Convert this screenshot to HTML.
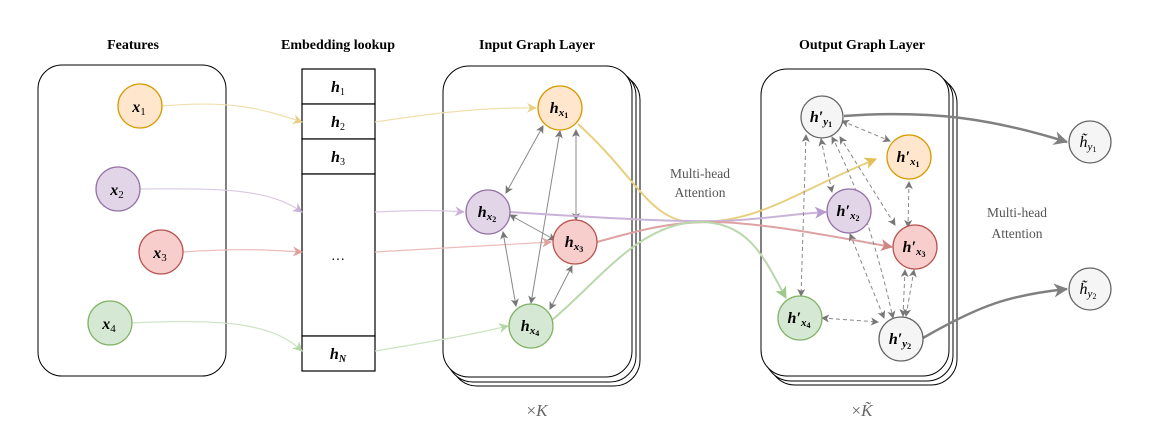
<!DOCTYPE html>
<html><head><meta charset="utf-8"><style>
body{margin:0;background:#fff}
svg{display:block}
text{font-family:"Liberation Serif",serif}
.t{font-weight:bold;font-size:14px;text-anchor:middle}
.m{font-style:italic;font-size:16px;text-anchor:middle;font-weight:bold}
.s{font-size:10px}
</style></head><body>
<svg width="1150" height="444" viewBox="0 0 1150 444" xmlns="http://www.w3.org/2000/svg">
<defs>
<marker id="ao" markerWidth="10" markerHeight="10" refX="9" refY="5" orient="auto" markerUnits="userSpaceOnUse"><path d="M0,0L10,5L0,10L3,5z" fill="#e8d08a"/></marker>
<marker id="ap" markerWidth="10" markerHeight="10" refX="9" refY="5" orient="auto" markerUnits="userSpaceOnUse"><path d="M0,0L10,5L0,10L3,5z" fill="#c8b3d6"/></marker>
<marker id="ar" markerWidth="10" markerHeight="10" refX="9" refY="5" orient="auto" markerUnits="userSpaceOnUse"><path d="M0,0L10,5L0,10L3,5z" fill="#e0a09e"/></marker>
<marker id="ag" markerWidth="10" markerHeight="10" refX="9" refY="5" orient="auto" markerUnits="userSpaceOnUse"><path d="M0,0L10,5L0,10L3,5z" fill="#b7d6a8"/></marker>
<marker id="aO" markerWidth="12" markerHeight="12" refX="11" refY="6" orient="auto" markerUnits="userSpaceOnUse"><path d="M0,0L12,6L0,12L3,6z" fill="#e3bf55"/></marker>
<marker id="aP" markerWidth="12" markerHeight="12" refX="11" refY="6" orient="auto" markerUnits="userSpaceOnUse"><path d="M0,0L12,6L0,12L3,6z" fill="#b89ccb"/></marker>
<marker id="aR" markerWidth="12" markerHeight="12" refX="11" refY="6" orient="auto" markerUnits="userSpaceOnUse"><path d="M0,0L12,6L0,12L3,6z" fill="#cf8583"/></marker>
<marker id="aG" markerWidth="12" markerHeight="12" refX="11" refY="6" orient="auto" markerUnits="userSpaceOnUse"><path d="M0,0L12,6L0,12L3,6z" fill="#9fc98c"/></marker>
<marker id="ak" markerWidth="14" markerHeight="14" refX="13" refY="7" orient="auto" markerUnits="userSpaceOnUse"><path d="M0,0L14,7L0,14L4,7z" fill="#808080"/></marker>
<marker id="g1" markerWidth="8" markerHeight="8" refX="7" refY="4" orient="auto" markerUnits="userSpaceOnUse"><path d="M0,0L8,4L0,8L2,4z" fill="#777"/></marker>
<marker id="g0" markerWidth="8" markerHeight="8" refX="1" refY="4" orient="auto" markerUnits="userSpaceOnUse"><path d="M8,0L0,4L8,8L6,4z" fill="#777"/></marker>
</defs>

<text class="t" x="133" y="49">Features</text>
<text class="t" x="338" y="49">Embedding lookup</text>
<text class="t" x="537" y="49">Input Graph Layer</text>
<text class="t" x="862" y="49">Output Graph Layer</text>

<rect x="38" y="65" width="188" height="311" rx="24" fill="#fff" stroke="#000" stroke-width="1"/>

<g fill="#fff" stroke="#000" stroke-width="1.2">
<rect x="302" y="69" width="73" height="35"/><rect x="302" y="104" width="73" height="35"/><rect x="302" y="139" width="73" height="35"/><rect x="302" y="174" width="73" height="162"/><rect x="302" y="336" width="73" height="35"/>
</g>
<text class="m" x="338" y="92">h<tspan class="s" font-style="normal" font-weight="normal" dy="3">1</tspan></text>
<text class="m" x="338" y="127">h<tspan class="s" font-style="normal" font-weight="normal" dy="3">2</tspan></text>
<text class="m" x="338" y="162">h<tspan class="s" font-style="normal" font-weight="normal" dy="3">3</tspan></text>
<text x="338" y="260" text-anchor="middle" font-size="14">…</text>
<text class="m" x="338" y="359">h<tspan class="s" dy="3">N</tspan></text>

<g fill="#fff" stroke="#000" stroke-width="1">
<rect x="451" y="74" width="189" height="312" rx="26"/>
<rect x="447" y="70" width="189" height="312" rx="26"/>
<rect x="443" y="66" width="189" height="311" rx="26"/>
</g>
<g fill="#fff" stroke="#000" stroke-width="1">
<rect x="769" y="77" width="188" height="308" rx="26"/>
<rect x="765" y="73" width="188" height="308" rx="26"/>
<rect x="761" y="69" width="188" height="307" rx="26"/>
</g>

<g fill="none" stroke-width="1.2">
<path d="M162,106 C230,100 260,108 302,122" stroke="#f0dfae" marker-end="url(#ao)"/>
<path d="M140,189 C230,188 270,190 302,212" stroke="#d9c9e3" marker-end="url(#ap)"/>
<path d="M183,252 C240,248 270,250 302,252" stroke="#ecbcbb" marker-end="url(#ar)"/>
<path d="M132,323 C230,318 275,325 302,351" stroke="#cde3c2" marker-end="url(#ag)"/>
<path d="M375,122 C440,112 490,107 536,108" stroke="#f0dfae" marker-end="url(#ao)"/>
<path d="M375,212 C420,210 440,210 464,212" stroke="#d9c9e3" marker-end="url(#ap)"/>
<path d="M375,252 C450,248 500,245 551,242" stroke="#ecbcbb" marker-end="url(#ar)"/>
<path d="M375,351 C430,342 470,335 508,326" stroke="#cde3c2" marker-end="url(#ag)"/>
</g>

<g stroke="#888" stroke-width="1" fill="none" marker-start="url(#g0)" marker-end="url(#g1)">
<path d="M543,126 L506,193"/>
<path d="M560,131 L531,303"/>
<path d="M576,130 L576,220"/>
<path d="M510,215 L555,240"/>
<path d="M503,232 L516,306"/>
<path d="M572,266 L550,309"/>
</g>

<g fill="none" stroke-width="2">
<path d="M578,124 C640,180 650,225 700,222 C760,222 800,190 876,159" stroke="#e8cf7e" marker-end="url(#aO)"/>
<path d="M510,212 C600,218 680,222 720,221 C760,220 790,214 826,212" stroke="#c9b3d8" marker-end="url(#aP)"/>
<path d="M597,242 C640,230 670,222 710,222 C760,222 830,236 892,247" stroke="#dda3a2" marker-end="url(#aR)"/>
<path d="M552,320 C600,280 640,222 700,222 C750,222 765,260 786,298" stroke="#b9d8ab" marker-end="url(#aG)"/>
</g>

<text x="700" y="178" text-anchor="middle" font-size="13.5" fill="#555">Multi-head</text>
<text x="700" y="197" text-anchor="middle" font-size="13.5" fill="#555">Attention</text>
<text x="1017" y="217" text-anchor="middle" font-size="13.5" fill="#555">Multi-head</text>
<text x="1017" y="238" text-anchor="middle" font-size="13.5" fill="#555">Attention</text>

<g stroke="#888" stroke-width="1" fill="none" stroke-dasharray="4,3" marker-start="url(#g0)" marker-end="url(#g1)">
<path d="M842,121 L890,141"/>
<path d="M806,135 L801,296"/>
<path d="M821,139 L832,192"/>
<path d="M840,137 L895,225"/>
<path d="M832,137 C860,190 880,260 893,318"/>
<path d="M909,182 L908,227"/>
<path d="M850,234 L884,318"/>
<path d="M822,318 L878,322"/>
<path d="M905,270 L903,316"/>
<path d="M914,270 L906,316"/>
</g>

<g fill="none" stroke="#808080" stroke-width="2.5">
<path d="M844,116 C930,110 990,118 1067,142" marker-end="url(#ak)"/>
<path d="M923,338 C980,305 1010,295 1067,289" marker-end="url(#ak)"/>
</g>

<g stroke-width="1.3">
<circle cx="140" cy="106" r="22" fill="#ffe6cc" stroke="#d79b00"/>
<circle cx="118" cy="189" r="22" fill="#e1d5e7" stroke="#9673a6"/>
<circle cx="161" cy="252" r="22" fill="#f8cecc" stroke="#b85450"/>
<circle cx="110" cy="323" r="22" fill="#d5e8d4" stroke="#82b366"/>
<circle cx="560" cy="108" r="22" fill="#ffe6cc" stroke="#d79b00"/>
<circle cx="488" cy="212" r="22" fill="#e1d5e7" stroke="#9673a6"/>
<circle cx="575" cy="242" r="22" fill="#f8cecc" stroke="#b85450"/>
<circle cx="531" cy="326" r="22" fill="#d5e8d4" stroke="#82b366"/>
<circle cx="822" cy="117" r="21" fill="#f5f5f5" stroke="#666"/>
<circle cx="909" cy="157" r="22" fill="#ffe6cc" stroke="#d79b00"/>
<circle cx="849" cy="211" r="22" fill="#e1d5e7" stroke="#9673a6"/>
<circle cx="915" cy="247" r="22" fill="#f8cecc" stroke="#b85450"/>
<circle cx="800" cy="318" r="22" fill="#d5e8d4" stroke="#82b366"/>
<circle cx="901" cy="339" r="22" fill="#f5f5f5" stroke="#666"/>
<circle cx="1090" cy="142" r="21" fill="#f5f5f5" stroke="#666"/>
<circle cx="1090" cy="289" r="21" fill="#f5f5f5" stroke="#666"/>
</g>

<g font-size="16" font-style="italic" font-weight="bold" text-anchor="middle">
<text x="139" y="112">x<tspan font-size="11" font-style="normal" font-weight="normal" dy="3">1</tspan></text>
<text x="117" y="195">x<tspan font-size="11" font-style="normal" font-weight="normal" dy="3">2</tspan></text>
<text x="160" y="258">x<tspan font-size="11" font-style="normal" font-weight="normal" dy="3">3</tspan></text>
<text x="109" y="329">x<tspan font-size="11" font-style="normal" font-weight="normal" dy="3">4</tspan></text>
<text x="559" y="113">h<tspan font-size="11" dy="3">x</tspan><tspan font-size="8" font-style="normal" dy="2">1</tspan></text>
<text x="487" y="217">h<tspan font-size="11" dy="3">x</tspan><tspan font-size="8" font-style="normal" dy="2">2</tspan></text>
<text x="574" y="247">h<tspan font-size="11" dy="3">x</tspan><tspan font-size="8" font-style="normal" dy="2">3</tspan></text>
<text x="530" y="331">h<tspan font-size="11" dy="3">x</tspan><tspan font-size="8" font-style="normal" dy="2">4</tspan></text>
<text x="821" y="122">h′<tspan font-size="11" dy="3">y</tspan><tspan font-size="8" font-style="normal" dy="2">1</tspan></text>
<text x="908" y="162">h′<tspan font-size="11" dy="3">x</tspan><tspan font-size="8" font-style="normal" dy="2">1</tspan></text>
<text x="848" y="216">h′<tspan font-size="11" dy="3">x</tspan><tspan font-size="8" font-style="normal" dy="2">2</tspan></text>
<text x="914" y="252">h′<tspan font-size="11" dy="3">x</tspan><tspan font-size="8" font-style="normal" dy="2">3</tspan></text>
<text x="799" y="323">h′<tspan font-size="11" dy="3">x</tspan><tspan font-size="8" font-style="normal" dy="2">4</tspan></text>
<text x="900" y="344">h′<tspan font-size="11" dy="3">y</tspan><tspan font-size="8" font-style="normal" dy="2">2</tspan></text>
<text x="1088" y="147" font-weight="normal">h̃<tspan font-size="11" dy="3">y</tspan><tspan font-size="8" font-style="normal" dy="2">1</tspan></text>
<text x="1088" y="294" font-weight="normal">h̃<tspan font-size="11" dy="3">y</tspan><tspan font-size="8" font-style="normal" dy="2">2</tspan></text>
</g>

<text x="537" y="416" text-anchor="middle" font-size="17" fill="#666">×<tspan font-style="italic">K</tspan></text>
<text x="862" y="416" text-anchor="middle" font-size="17" fill="#666">×<tspan font-style="italic">K̃</tspan></text>
</svg>
</body></html>
